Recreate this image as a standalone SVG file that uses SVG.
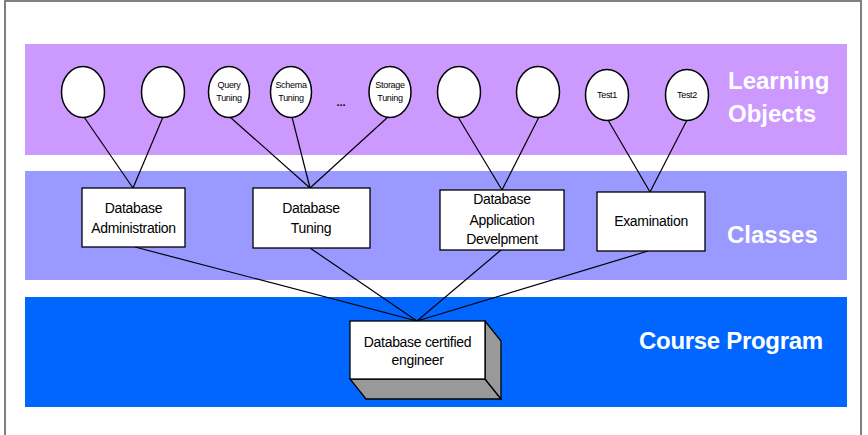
<svg xmlns="http://www.w3.org/2000/svg" width="868" height="435" viewBox="0 0 868 435">
<style>
.lo{fill:#fff;stroke:#000;stroke-width:1.5}
.cls{fill:#fff;stroke:#000;stroke-width:1.3}
.t{font-family:"Liberation Sans",Arial,sans-serif;fill:#000;text-anchor:middle}
.s{font-size:9px;letter-spacing:-0.3px}
.m{font-size:14px;letter-spacing:-0.3px}
.lbl{font-family:"Liberation Sans",Arial,sans-serif;font-weight:bold;font-size:24px;fill:#fff}
#connectors line{stroke:#000;stroke-width:1.2}
</style>
<rect x="0" y="0" width="868" height="435" fill="#fff"/>
<rect x="5" y="1" width="856" height="445" fill="none" stroke="#808080" stroke-width="2"/>
<g id="bands">
<rect x="25" y="44" width="822" height="111" fill="#cc99ff"/>
<rect x="25" y="171" width="822" height="109" fill="#9999ff"/>
<rect x="25" y="297" width="822" height="110" fill="#0066ff"/>
<text class="lbl" x="728" y="89">Learning</text>
<text class="lbl" x="728" y="122">Objects</text>
<text class="lbl" x="727" y="243">Classes</text>
<text class="lbl" x="639" y="349" letter-spacing="-0.3">Course Program</text>
</g>
<g id="connectors">
<line x1="84" y1="117" x2="133" y2="188"/>
<line x1="163" y1="117" x2="133" y2="188"/>
<line x1="230" y1="117" x2="310" y2="188"/>
<line x1="292" y1="117" x2="310" y2="188"/>
<line x1="388" y1="117" x2="310" y2="188"/>
<line x1="458" y1="117" x2="502" y2="190"/>
<line x1="539" y1="117" x2="502" y2="190"/>
<line x1="608" y1="120" x2="650" y2="192"/>
<line x1="687" y1="120" x2="650" y2="192"/>
<line x1="135" y1="247" x2="417" y2="321"/>
<line x1="310" y1="248" x2="417" y2="321"/>
<line x1="501" y1="250" x2="417" y2="321"/>
<line x1="648" y1="251" x2="417" y2="321"/>
</g>
<g id="lo1"><ellipse class="lo" cx="83" cy="92" rx="21.5" ry="25.5"/></g>
<g id="lo2"><ellipse class="lo" cx="163" cy="92" rx="21.5" ry="25.5"/></g>
<g id="lo3"><ellipse class="lo" cx="229" cy="92" rx="20.5" ry="25.5"/><text class="t s" x="229" y="88">Query</text><text class="t s" x="229" y="101">Tuning</text></g>
<g id="lo4"><ellipse class="lo" cx="291" cy="92" rx="20.5" ry="25.5"/><text class="t s" x="291" y="88">Schema</text><text class="t s" x="291" y="101">Tuning</text></g>
<g id="dots"><text class="t" style="font-size:11px;font-weight:bold" x="341" y="106">...</text></g>
<g id="lo5"><ellipse class="lo" cx="390" cy="92" rx="21" ry="25.5"/><text class="t s" x="390" y="88">Storage</text><text class="t s" x="390" y="101">Tuning</text></g>
<g id="lo6"><ellipse class="lo" cx="459" cy="92" rx="21.5" ry="25.5"/></g>
<g id="lo7"><ellipse class="lo" cx="538" cy="92" rx="21.5" ry="25.5"/></g>
<g id="lo8"><ellipse class="lo" cx="607" cy="95" rx="21.5" ry="25.5"/><text class="t s" x="607" y="98">Test1</text></g>
<g id="lo9"><ellipse class="lo" cx="687" cy="95" rx="21.5" ry="25.5"/><text class="t s" x="687" y="98">Test2</text></g>
<g id="c1"><rect class="cls" x="82" y="188" width="103" height="59"/><text class="t m" x="133.5" y="213">Database</text><text class="t m" x="133.5" y="233">Administration</text></g>
<g id="c2"><rect class="cls" x="253" y="188" width="117" height="60"/><text class="t m" x="311" y="213">Database</text><text class="t m" x="311" y="233">Tuning</text></g>
<g id="c3"><rect class="cls" x="440" y="190" width="124" height="60"/><text class="t m" x="502" y="204">Database</text><text class="t m" x="502" y="225">Application</text><text class="t m" x="502" y="244">Develpment</text></g>
<g id="c4"><rect class="cls" x="597" y="192" width="108" height="59"/><text class="t m" x="651" y="226">Examination</text></g>
<g id="program">
<polygon points="350,379 485,379 501,399 366,399" fill="#999" stroke="#000" stroke-width="1.3"/>
<polygon points="485,321 501,341 501,399 485,379" fill="#999" stroke="#000" stroke-width="1.3"/>
<rect class="cls" x="350" y="321" width="135" height="58"/>
<text class="t m" x="417.5" y="347">Database certified</text>
<text class="t m" x="417.5" y="365">engineer</text>
</g>
</svg>
